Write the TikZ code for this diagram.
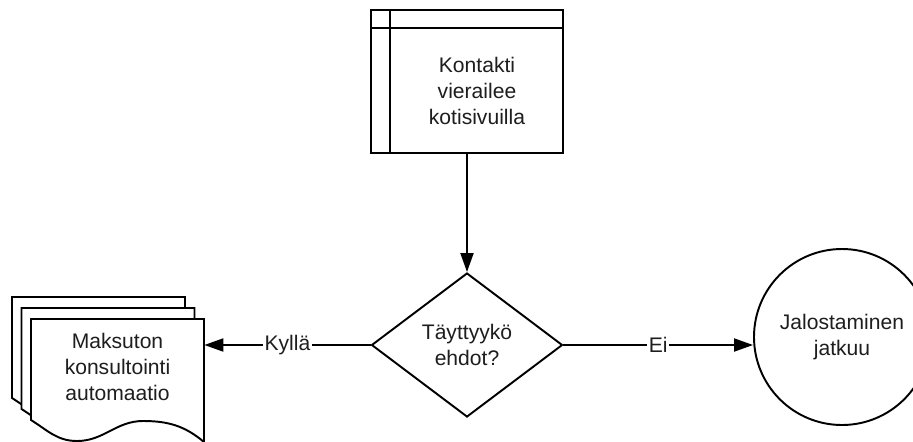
\documentclass[tikz,border=0pt]{standalone}
\usepackage{fontspec}
\setmainfont{Liberation Sans}
\usetikzlibrary{arrows.meta,calc,positioning,shapes.geometric}
\definecolor{flInk}{HTML}{000000}
\definecolor{flText}{HTML}{1E1E1E}
\tikzset{
  fl line/.style={draw=flInk, line width=1.1pt},
  fl arrow/.style={
    fl line,
    -{Triangle[length=3.8mm,width=2.6mm]}
  },
  fl text/.style={
    font=\fontsize{12}{14.8}\selectfont,
    text=flText,
    align=center
  },
  fl storage/.style={
    fl line, fill=white, rectangle, inner sep=0pt,
    minimum width=3.84cm, minimum height=2.86cm
  },
  fl decision/.style={
    fl line, fl text, fill=white, diamond, inner sep=0pt,
    minimum width=3.82cm, minimum height=2.88cm
  },
  fl terminal/.style={
    fl line, fl text, fill=white, circle, inner sep=0pt,
    minimum size=3.52cm
  },
  fl sheet/.style={fl line, fill=white, line join=miter},
  fl label/.style={fl text, fill=white, inner sep=1pt}
}

\begin{document}
\begin{tikzpicture}[x=1cm,y=1cm]
  \path[use as bounding box, fill=white] (0,0) rectangle (18.26,-8.82);
  \clip (0,0) rectangle (18.26,-8.82);

  % internal storage box on top
  \node[fl storage,
    label={[fl text, xshift=2mm, yshift=-1.9mm]center:Kontakti\\vierailee\\kotisivuilla}]
    (visit) at (9.34,-1.63) {};
  \draw[fl line]
    ([xshift=4mm]visit.north west) -- ([xshift=4mm]visit.south west)
    ([yshift=-3.8mm]visit.north west) -- ([yshift=-3.8mm]visit.north east);

  \node[fl decision] (dec) at (9.34,-6.9) {Täyttyykö\\ehdot?};
  \node[fl terminal] (done) at (16.84,-6.74) {Jalostaminen\\jatkuu};

  % stacked documents, back to front
  \foreach \k in {2,1,0} {
    \draw[fl sheet, shift={(0.62-0.19*\k,-6.38+0.22*\k)}]
      (0,0) -- (3.46,0) -- (3.46,-2.46)
      to[out=140,in=0] (2.24,-2.04)
      to[out=180,in=0] (0.92,-2.44)
      to[out=180,in=-32] (0,-2.02) -- cycle;
  }
  \node[fl text, minimum width=3.46cm, inner sep=0pt] (offer) at (2.35,-7.33)
    {Maksuton\\konsultointi\\automaatio};

  \draw[fl arrow] (visit) -- (dec);
  \draw[fl arrow] (dec) -- node[fl label] {Kyllä} (dec.west -| offer.east);
  \draw[fl arrow] (dec) -- node[fl label] {Ei} (dec.east -| done.west);
\end{tikzpicture}
\end{document}
